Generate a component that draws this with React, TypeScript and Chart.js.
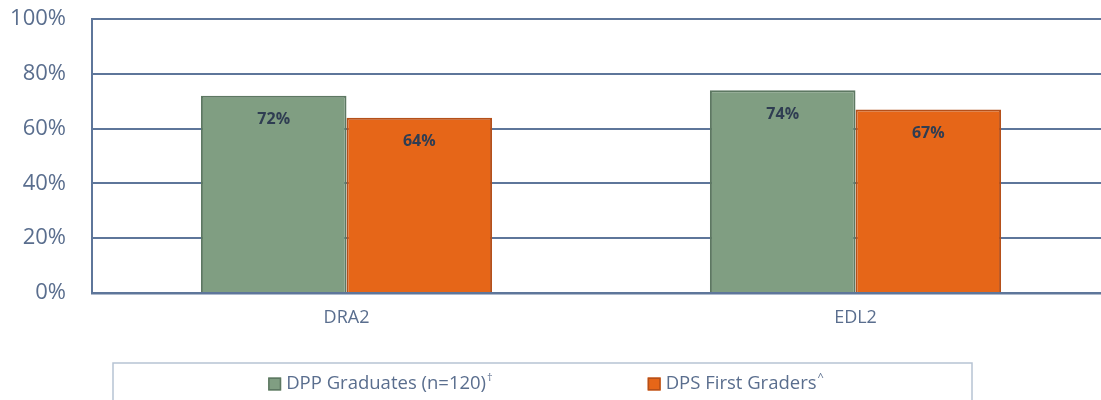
import React, { useEffect, useRef } from "react";
import { Chart, registerables } from "chart.js";

Chart.register(...registerables);

const categories = ["DRA2", "EDL2"];
const seriesNames = ["DPP Graduates (n=120)", "DPS First Graders"];
const seriesMarks = ["†", "^"];
const dppValues = [72, 74];
const dpsValues = [64, 67];
const yTicks = [0, 20, 40, 60, 80, 100];

const FONT = "'Open Sans'";
const TEXT = "#5a6e8e";
const LINE = "#5e769a";
const GREEN = "#809e82";
const GREEN_B = "#5d7862";
const ORANGE = "#e66618";
const ORANGE_B = "#b5501a";

const valueLabels = {
  id: "valueLabels",
  afterDatasetsDraw(chart: any) {
    const ctx = chart.ctx;
    ctx.save();
    ctx.font = "bold 16px " + FONT;
    ctx.fillStyle = "#2f3d52";
    ctx.textAlign = "center";
    ctx.textBaseline = "middle";
    chart.data.datasets.forEach((ds: any, i: number) => {
      const meta = chart.getDatasetMeta(i);
      meta.data.forEach((bar: any, j: number) => {
        ctx.fillText(ds.data[j] + "%", bar.x, bar.y + 24);
      });
    });
    ctx.restore();
  },
};

const boxLegend = {
  id: "boxLegend",
  afterDraw(chart: any, _args: any, opts: any) {
    const ctx = chart.ctx;
    const { left, right, top, center, gap, textY } = opts;
    ctx.save();
    ctx.strokeStyle = "#b7c3d3";
    ctx.lineWidth = 1.5;
    ctx.strokeRect(left, top, right - left, 60);
    const font = "18.5px " + FONT;
    const supFont = "11px " + FONT;
    const sq = 13;
    const items = chart.data.datasets.map((ds: any, i: number) => {
      ctx.font = font;
      const w1 = ctx.measureText(ds.label).width;
      ctx.font = supFont;
      const w2 = ctx.measureText(seriesMarks[i]).width;
      return { ds, w1, w2, width: sq + 5 + w1 + w2 + 1 };
    });
    const total = items.reduce((a: number, it: any) => a + it.width, 0) + gap * (items.length - 1);
    let x = center - total / 2;
    items.forEach((it: any, i: number) => {
      ctx.fillStyle = it.ds.backgroundColor;
      ctx.strokeStyle = it.ds.borderColor;
      ctx.lineWidth = 1.5;
      ctx.fillRect(x, textY - sq / 2, sq, sq);
      ctx.strokeRect(x + 0.75, textY - sq / 2 + 0.75, sq - 1.5, sq - 1.5);
      ctx.fillStyle = TEXT;
      ctx.textBaseline = "middle";
      ctx.textAlign = "left";
      ctx.font = font;
      ctx.fillText(it.ds.label, x + sq + 5, textY);
      ctx.font = supFont;
      ctx.fillText(seriesMarks[i], x + sq + 5 + it.w1 + 1, textY - 6);
      x += it.width + gap;
    });
    ctx.restore();
  },
};

export default function App() {
  const ref = useRef<HTMLCanvasElement | null>(null);

  useEffect(() => {
    document.body.style.overflow = "hidden";
    const canvas = ref.current;
    if (!canvas) return;
    const chart = new Chart(canvas, {
      type: "bar",
      data: {
        labels: categories,
        datasets: [
          {
            label: seriesNames[0],
            data: dppValues,
            backgroundColor: GREEN,
            borderColor: GREEN_B,
            borderWidth: 2,
            categoryPercentage: 0.572,
            barPercentage: 1,
          },
          {
            label: seriesNames[1],
            data: dpsValues,
            backgroundColor: ORANGE,
            borderColor: ORANGE_B,
            borderWidth: 2,
            categoryPercentage: 0.572,
            barPercentage: 1,
          },
        ],
      },
      options: {
        responsive: false,
        animation: false,
        devicePixelRatio: 1,
        layout: { padding: { top: 19, right: 10, left: 0, bottom: 57 } },
        plugins: {
          legend: { display: false },
          tooltip: { enabled: false },
          boxLegend: { left: 113, right: 972, top: 363, center: 546, gap: 155, textY: 384 },
        } as any,
        scales: {
          x: {
            grid: { display: false, drawTicks: false },
            border: { display: true, color: LINE, width: 2.5 },
            ticks: { color: TEXT, font: { family: "Open Sans", size: 18 }, padding: 14 },
            afterFit: (s: any) => {
              s.height = 50;
              s.paddingLeft = 0;
              s.paddingRight = 0;
            },
          },
          y: {
            min: 0,
            max: 100,
            afterBuildTicks: (s: any) => {
              s.ticks = yTicks.map((v) => ({ value: v }));
            },
            grid: { color: LINE, lineWidth: 2, drawTicks: false },
            border: { display: true, color: LINE, width: 2 },
            ticks: {
              color: TEXT,
              font: { family: "Open Sans", size: 22 },
              padding: 26,
              callback: (v: any) => v + "%",
            },
            afterFit: (s: any) => {
              s.width = 92;
              s.paddingTop = 0;
              s.paddingBottom = 0;
            },
          },
        },
      },
      plugins: [valueLabels, boxLegend],
    });
    return () => chart.destroy();
  }, []);

  return (
    <div style={{ position: "absolute", left: 0, top: 0, width: 1120, height: 400 }}>
      <canvas ref={ref} width={1120} height={400} />
    </div>
  );
}
